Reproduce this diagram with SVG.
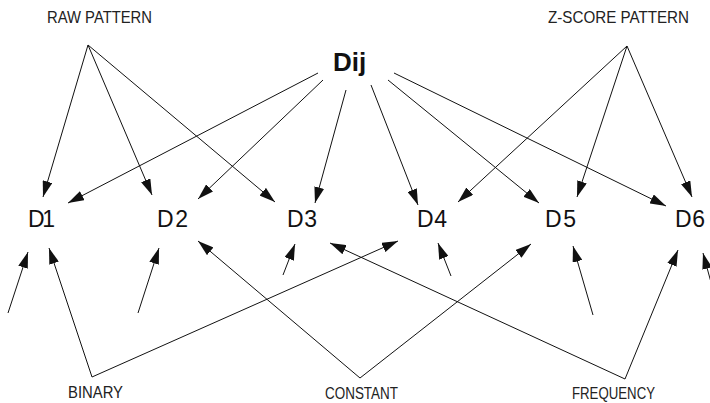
<svg xmlns="http://www.w3.org/2000/svg" width="710" height="403" viewBox="0 0 710 403">
  <style>
    .edge { stroke: #111; stroke-width: 1; fill: none; marker-end: url(#arrow); }
    .small { font-family: "Liberation Sans", Arial, sans-serif; font-size: 17px; fill: #222; }
    .node { font-family: "Liberation Sans", Arial, sans-serif; font-size: 23px; fill: #111; }
    .hub { font-family: "Liberation Sans", Arial, sans-serif; font-size: 26px; font-weight: bold; fill: #111; }
  </style>
  <defs>
    <marker id="arrow" markerUnits="userSpaceOnUse" markerWidth="16" markerHeight="10" refX="16" refY="5" orient="auto">
      <path d="M0,0 L16,5 L0,10 z" fill="#111"/>
    </marker>
  </defs>
  <rect width="710" height="403" fill="#fff"/>

  <!-- source labels -->
  <g id="raw-pattern"><text class="small" x="47" y="23" textLength="105" lengthAdjust="spacingAndGlyphs">RAW PATTERN</text></g>
  <g id="zscore-pattern"><text class="small" x="548" y="23" textLength="141" lengthAdjust="spacingAndGlyphs">Z-SCORE PATTERN</text></g>
  <g id="dij"><text class="hub" x="333" y="71">Dij</text></g>
  <g id="binary"><text class="small" x="68" y="398" textLength="55" lengthAdjust="spacingAndGlyphs">BINARY</text></g>
  <g id="constant"><text class="small" x="325" y="399" textLength="73" lengthAdjust="spacingAndGlyphs">CONSTANT</text></g>
  <g id="frequency"><text class="small" x="572" y="399" textLength="83" lengthAdjust="spacingAndGlyphs">FREQUENCY</text></g>

  <!-- distance measures -->
  <g id="d1"><text class="node" x="28" y="227" textLength="27" lengthAdjust="spacing">D1</text></g>
  <g id="d2"><text class="node" x="157" y="227" textLength="31" lengthAdjust="spacing">D2</text></g>
  <g id="d3"><text class="node" x="287" y="227" textLength="30" lengthAdjust="spacing">D3</text></g>
  <g id="d4"><text class="node" x="417" y="227" textLength="30" lengthAdjust="spacing">D4</text></g>
  <g id="d5"><text class="node" x="545" y="227" textLength="31" lengthAdjust="spacing">D5</text></g>
  <g id="d6"><text class="node" x="675" y="227" textLength="30" lengthAdjust="spacing">D6</text></g>

  <g id="connectors">
    <!-- raw pattern fan -->
    <line class="edge" x1="88" y1="45" x2="43" y2="197"/>
    <line class="edge" x1="88" y1="45" x2="152" y2="195"/>
    <line class="edge" x1="88" y1="45" x2="275" y2="202"/>
    <!-- z-score pattern fan -->
    <line class="edge" x1="627" y1="46" x2="458" y2="202"/>
    <line class="edge" x1="627" y1="46" x2="577" y2="197"/>
    <line class="edge" x1="627" y1="46" x2="692" y2="197"/>
    <!-- Dij fan -->
    <line class="edge" x1="318" y1="73" x2="68" y2="203"/>
    <line class="edge" x1="323" y1="80" x2="198" y2="199"/>
    <line class="edge" x1="346" y1="90" x2="315" y2="203"/>
    <line class="edge" x1="371" y1="85" x2="418" y2="205"/>
    <line class="edge" x1="388" y1="80" x2="539" y2="203"/>
    <line class="edge" x1="394" y1="73" x2="666" y2="206"/>
    <!-- binary -->
    <line class="edge" x1="92" y1="377" x2="49" y2="248"/>
    <line class="edge" x1="92" y1="377" x2="398" y2="241"/>
    <!-- constant -->
    <line class="edge" x1="360" y1="378" x2="198" y2="241"/>
    <line class="edge" x1="360" y1="378" x2="531" y2="244"/>
    <!-- frequency -->
    <line class="edge" x1="625" y1="379" x2="330" y2="243"/>
    <line class="edge" x1="625" y1="379" x2="678" y2="250"/>
    <!-- short inputs -->
    <line class="edge" x1="8" y1="313" x2="28" y2="252"/>
    <line class="edge" x1="138" y1="313" x2="159" y2="248"/>
    <line class="edge" x1="283" y1="275" x2="295" y2="244"/>
    <line class="edge" x1="451" y1="276" x2="438" y2="243"/>
    <line class="edge" x1="593" y1="315" x2="573" y2="246"/>
    <line class="edge" x1="712" y1="286" x2="703" y2="253"/>
  </g>
</svg>
